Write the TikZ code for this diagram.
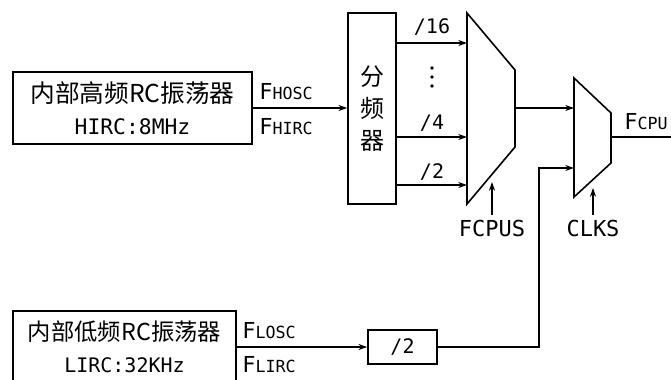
\documentclass[tikz,border=0pt]{standalone}
\usepackage{fontspec}
\setmainfont{Noto Sans CJK SC}
\newfontfamily\latinmono{DejaVu Sans Mono}
\usetikzlibrary{arrows.meta}
\tikzset{
    blk/.style={draw, line width=1.2pt, inner sep=0pt, align=center},
    arr/.style={-{Stealth[length=6.5pt,width=4.5pt]}, line width=1.2pt},
    ln/.style={-, line width=1.2pt},
    lbl/.style={inner sep=0pt, font={\latinmono\fontsize{15}{17}\selectfont}},
    sel/.style={font={\latinmono\fontsize{16.5}{20}\selectfont}},
}
\newcommand{\fsub}[2]{{\latinmono\fontsize{16.5}{20}\selectfont #1}{\latinmono\fontsize{12.5}{15}\selectfont #2}}
\begin{document}
\begin{tikzpicture}[x=0.75pt,y=-0.75pt]
                \useasboundingbox (0,0) rectangle (671,379);
                \node[blk, minimum width=179.25pt, minimum height=54pt, font={\fontsize{18.5}{24}\selectfont}] (hirc) at (132.5,108) {
                    内部高频RC振荡器\\{\latinmono\fontsize{16}{24}\selectfont HIRC:8MHz}
                };
                \node[anchor=west, inner sep=0pt] (fhosc) at (259,92) {\fsub{F}{HOSC}};
                \node[anchor=west, inner sep=0pt] (fhirc) at (259,127) {\fsub{F}{HIRC}};
                \node[blk, minimum width=36pt, minimum height=143.25pt, font={\fontsize{18}{24}\selectfont}] (div) at (372,108.5) {分\\频\\器};
                \draw[arr] (hirc.east) -- (div.west |- hirc.east);

                \coordinate (m1a) at (467,13);
                \coordinate (m1b) at (515,70);
                \coordinate (m1c) at (515,147);
                \coordinate (m1d) at (467,204);
                \draw[ln] (m1a) -- (m1b) -- (m1c) -- (m1d) -- cycle;
                \coordinate (in16) at (467,43);
                \coordinate (in4) at (467,137);
                \coordinate (in2) at (467,185);
                \draw[arr] (div.east |- in16) -- (in16);
                \draw[arr] (div.east |- in4) -- (in4);
                \draw[arr] (div.east |- in2) -- (in2);
                \node[lbl] (d16) at (432,27) {/16};
                \foreach \y in {68,77,86} \fill (432,\y) circle (1.8);
                \node[lbl] (d4) at (432,123) {/4};
                \node[lbl] (d2) at (432,172) {/2};
                \node[sel] (fcpus) at (492,228) {FCPUS};
                \coordinate (sel1) at (492,182);
                \draw[arr] (fcpus.north) -- (sel1);

                \coordinate (m2a) at (574,78);
                \coordinate (m2b) at (611,113);
                \coordinate (m2c) at (611,163);
                \coordinate (m2d) at (574,197);
                \draw[ln] (m2a) -- (m2b) -- (m2c) -- (m2d) -- cycle;
                \coordinate (m1out) at (515,108);
                \coordinate (m2in1) at (574,108);
                \coordinate (m2in2) at (574,168);
                \draw[arr] (m1out) -- (m2in1);
                \coordinate (m2out) at (611,137);
                \coordinate (fcpuend) at (672,137);
                \draw[ln] (m2out) -- (fcpuend);
                \node[anchor=west, inner sep=0pt] (fcpu) at (624,122) {\fsub{F}{CPU}};
                \node[sel] (clks) at (593,228) {CLKS};
                \coordinate (sel2) at (593,188);
                \draw[arr] (clks.north) -- (sel2);

                \node[blk, minimum width=167.25pt, minimum height=54pt, font={\fontsize{17.5}{24}\selectfont}] (lirc) at (124.5,347) {
                    内部低频RC振荡器\\{\latinmono\fontsize{15}{24}\selectfont LIRC:32KHz}
                };
                \node[anchor=west, inner sep=0pt] (flosc) at (242,331) {\fsub{F}{LOSC}};
                \node[anchor=west, inner sep=0pt] (flirc) at (242,365) {\fsub{F}{LIRC}};
                \node[blk, minimum width=51.75pt, minimum height=25.5pt, font={\latinmono\fontsize{15}{17}\selectfont}] (half) at (402.5,347) {/2};
                \draw[arr] (lirc.east) -- (half.west);
                \coordinate (bend) at (539,168);
                \draw[arr] (half.east) -| (bend) -- (m2in2);
            \end{tikzpicture}
\end{document}
